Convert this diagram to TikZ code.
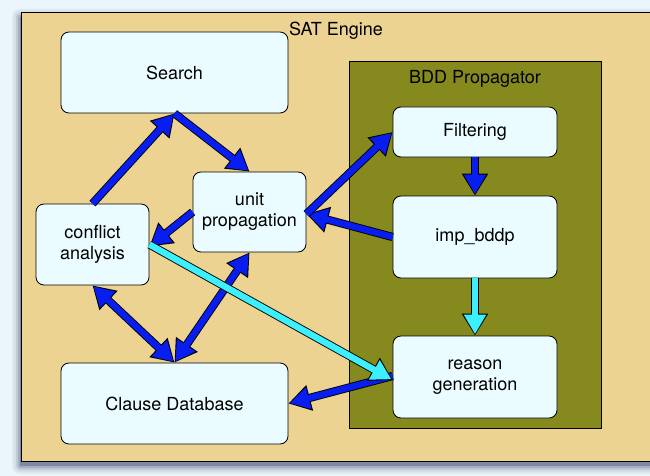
\documentclass[tikz,border=0pt]{standalone}
\usepackage{fontspec}
\setmainfont{TeX Gyre Heros}
\usetikzlibrary{arrows.meta}

\definecolor{pagebg}{RGB}{234,246,251}
\definecolor{enginetan}{RGB}{236,211,146}
\definecolor{bddolive}{RGB}{134,138,30}
\definecolor{boxfill}{RGB}{234,252,255}
\definecolor{arrowblue}{RGB}{8,30,240}
\definecolor{arrowcyan}{RGB}{60,240,255}
\definecolor{shadowgray}{RGB}{40,50,90}

\begin{document}
\begin{tikzpicture}[x=1pt, y=-1pt, font=\fontsize{18}{21}\selectfont,
		box/.style={draw, line width={0.3mm}, fill=boxfill, rounded corners=8pt, align=center, inner sep=0pt},
		fatlink/.style={draw=#1, line width=6.4pt, -{Triangle[length=19.5pt, width=21pt]}, shorten >=1.4pt,
			preaction={draw=black, line width=8.2pt, shorten >=0pt, -{Triangle[length=22pt, width=25pt]}}},
		fatboth/.style={draw=#1, line width=6.4pt, {Triangle[length=19.5pt, width=21pt]}-{Triangle[length=19.5pt, width=21pt]}, shorten >=1.4pt, shorten <=1.4pt,
			preaction={draw=black, line width=8.2pt, shorten >=0pt, shorten <=0pt, {Triangle[length=22pt, width=25pt]}-{Triangle[length=22pt, width=25pt]}}}]
			\useasboundingbox[fill=pagebg] (0, 0) rectangle (650, 476);
			\foreach \r/\p in {8/6, 6/12, 4/22, 2/36, 0/55}
				\fill[shadowgray!\p!pagebg, rounded corners=\r] (20-\r, 17-\r) rectangle (700, 466+\r);
			\draw[line width={0.3mm}, fill=enginetan] (21, 12) rectangle (700, 461);
			\node (engine-label) at (336, 31) {SAT Engine};
			\node[draw, line width={0.3mm}, fill=bddolive, minimum width=252pt, minimum height=367pt] (bdd) at (475, 244.5) {};
			\node (bdd-label) at (475, 79) {BDD Propagator};
			\node[box, minimum width=227pt, minimum height=81pt] (search) at (174.5, 72.5) {Search};
			\node[box, minimum width=113pt, minimum height=80pt] (unit) at (249.5, 212) {unit\\propagation};
			\node[box, minimum width=113pt, minimum height=81pt] (conflict) at (92.5, 244.5) {conflict\\analysis};
			\node[box, minimum width=227pt, minimum height=81pt] (clause) at (174.5, 403.5) {Clause Database};
			\node[box, minimum width=164pt, minimum height=50pt] (filtering) at (475, 132) {Filtering};
			\node[box, minimum width=164pt, minimum height=82pt] (imp) at (475, 237) {imp\_bddp};
			\node[box, minimum width=164pt, minimum height=82pt] (reason) at (475, 377) {reason\\generation};
			\draw[fatlink=arrowblue] (conflict.north) to (search.south);
			\draw[fatlink=arrowblue] (search.south) to (unit.north);
			\draw[fatlink=arrowblue] (unit.west) to ([yshift=-2pt]conflict.east);
			\draw[fatlink=arrowblue] (imp.west) to ([yshift=-2pt]unit.east);
			\draw[fatlink=arrowblue] ([yshift=-2pt]unit.east) to (filtering.west);
			\draw[fatlink=arrowblue] (filtering.south) to (imp.north);
			\draw[fatlink=arrowcyan] (imp.south) to (reason.north);
			\draw[fatboth=arrowblue] (conflict.south) to (clause.north);
			\draw[fatboth=arrowblue] (unit.south) to (clause.north);
			\draw[fatlink=arrowblue] ([yshift=1pt]reason.west) to (clause.east);
			\draw[fatlink=arrowcyan] (conflict.east) to ([yshift=-3pt]reason.west);
		\end{tikzpicture}
\end{document}
